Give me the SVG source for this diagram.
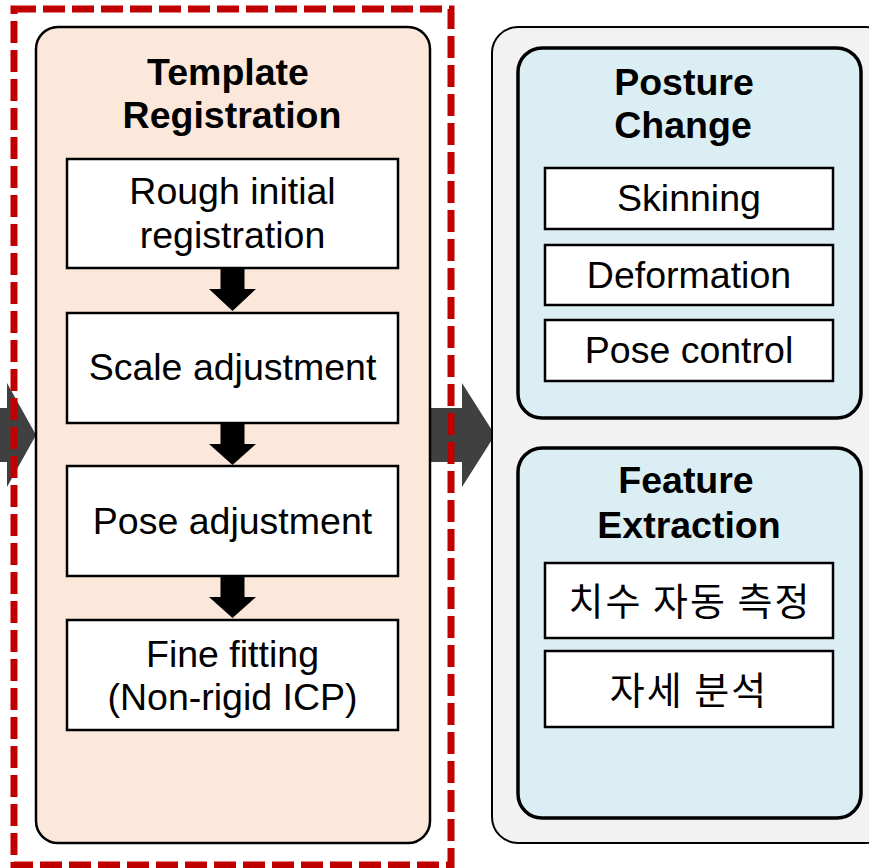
<svg xmlns="http://www.w3.org/2000/svg" width="869" height="868" viewBox="0 0 869 868">
<style>
.box{fill:#ffffff;stroke:#000;stroke-width:2.5}
.t{font-family:"Liberation Sans",Arial,sans-serif;font-size:37.5px;fill:#000;text-anchor:middle}
.b{font-weight:bold}
.k{font-family:"Noto Sans CJK KR","Liberation Sans",sans-serif;font-size:38px;letter-spacing:2px;fill:#000;text-anchor:middle}
.blk{fill:#000}
.dg{fill:#404040}
</style>
<rect width="869" height="868" fill="#fff"/>
<g id="connectors">
<polygon class="dg" points="0,408 7,408 7,383 36,435 7,487 7,462 0,462"/>
<polygon class="dg" points="430,408 462,408 462,383 495,435 462,487 462,462 430,462"/>
</g>
<g id="template-registration">
<rect x="36" y="27" width="394" height="816" rx="22" fill="#FCE8DA" stroke="#000" stroke-width="2.5"/>
<text class="t b" x="228" y="85">Template</text>
<text class="t b" x="232" y="128">Registration</text>
</g>
<g id="rough">
<rect class="box" x="67" y="159" width="331" height="109"/>
<text class="t" x="232.5" y="204">Rough initial</text>
<text class="t" x="232.5" y="248">registration</text>
</g>
<g id="scale">
<rect class="box" x="67" y="313" width="331" height="110"/>
<text class="t" x="232.5" y="380">Scale adjustment</text>
</g>
<g id="pose">
<rect class="box" x="67" y="466" width="331" height="110"/>
<text class="t" x="232.5" y="534">Pose adjustment</text>
</g>
<g id="fine">
<rect class="box" x="67" y="620" width="331" height="110"/>
<text class="t" x="232.5" y="667">Fine fitting</text>
<text class="t" x="232.5" y="710">(Non-rigid ICP)</text>
</g>
<g id="flow-arrows">
<polygon class="blk" points="220.5,268 244.5,268 244.5,289 256,289 232.5,311 209,289 220.5,289"/>
<polygon class="blk" points="220.5,423 244.5,423 244.5,444 256,444 232.5,465 209,444 220.5,444"/>
<polygon class="blk" points="220.5,576 244.5,576 244.5,597 256,597 232.5,618 209,597 220.5,597"/>
</g>
<g id="right-panel">
<rect x="492" y="27" width="400" height="816" rx="26" fill="#F2F2F2" stroke="#000" stroke-width="2"/>
</g>
<g id="posture-change">
<rect x="518" y="48" width="343" height="370" rx="24" fill="#DBEEF4" stroke="#000" stroke-width="3.5"/>
<text class="t b" x="684" y="95">Posture</text>
<text class="t b" x="683" y="138">Change</text>
</g>
<g id="skinning">
<rect class="box" x="545" y="168" width="288" height="61"/>
<text class="t" x="689" y="211">Skinning</text>
</g>
<g id="deformation">
<rect class="box" x="545" y="245" width="288" height="60"/>
<text class="t" x="689" y="288">Deformation</text>
</g>
<g id="pose-control">
<rect class="box" x="545" y="320" width="288" height="61"/>
<text class="t" x="689" y="363">Pose control</text>
</g>
<g id="feature-extraction">
<rect x="518" y="448" width="343" height="370" rx="24" fill="#DBEEF4" stroke="#000" stroke-width="3.5"/>
<text class="t b" x="686" y="493">Feature</text>
<text class="t b" x="689" y="538">Extraction</text>
</g>
<g id="measure">
<rect class="box" x="545" y="563" width="288" height="75"/>
<text class="k" x="690" y="615">치수 자동 측정</text>
</g>
<g id="analysis">
<rect class="box" x="545" y="651" width="288" height="76"/>
<text class="k" x="689" y="704">자세 분석</text>
</g>
<g id="highlight">
<rect x="14" y="9" width="437" height="856" fill="none" stroke="#C00000" stroke-width="7" stroke-dasharray="22 7"/>
</g>
</svg>
